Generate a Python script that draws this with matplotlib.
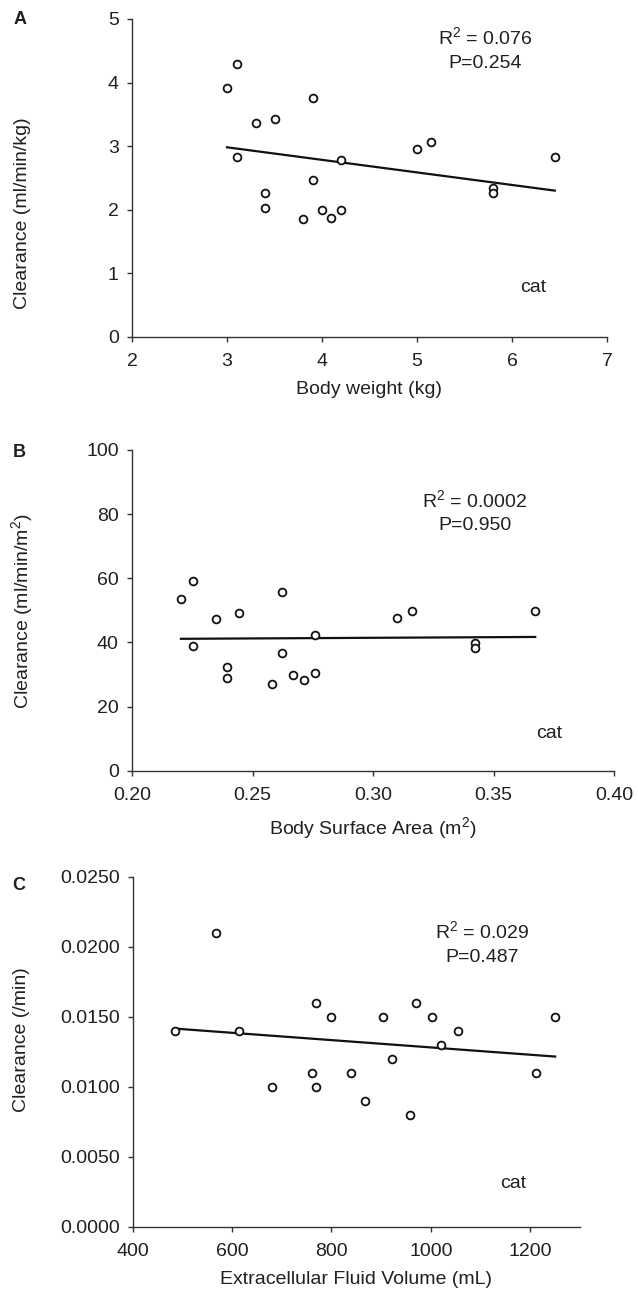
import numpy as np
import matplotlib
matplotlib.use("Agg")
import matplotlib.pyplot as plt
from matplotlib.ticker import FormatStrFormatter

plt.rcParams['font.family'] = ['Liberation Sans', 'DejaVu Sans']
plt.rcParams['mathtext.fontset'] = 'custom'
plt.rcParams['mathtext.rm'] = 'Liberation Sans'
plt.rcParams['mathtext.it'] = 'Liberation Sans'
plt.rcParams['mathtext.default'] = 'regular'

# ---------------- data ----------------
# Panel A: body weight (kg) vs clearance (ml/min/kg)
bw_kg = [3.0, 3.1, 3.1, 3.3, 3.4, 3.4, 3.5, 3.8, 3.9, 3.9, 4.0, 4.1, 4.2, 4.2,
         5.0, 5.15, 5.8, 5.8, 6.45]
cl_per_kg = [3.92, 4.29, 2.83, 3.37, 2.27, 2.03, 3.43, 1.85, 3.76, 2.47, 1.99,
             1.87, 1.99, 2.78, 2.96, 3.06, 2.35, 2.26, 2.83]

# Panel B: body surface area (m2) vs clearance (ml/min/m2)
bsa_m2 = [0.2203, 0.2252, 0.2252, 0.2349, 0.2395, 0.2395, 0.2442, 0.2580, 0.2624,
          0.2624, 0.2669, 0.2713, 0.2760, 0.2760, 0.3099, 0.3161, 0.3423, 0.3423,
          0.3673]
cl_per_m2 = [53.4, 59.1, 38.9, 47.3, 32.3, 29.0, 49.2, 27.1, 55.8, 36.8, 29.8,
             28.4, 30.5, 42.4, 47.7, 49.9, 39.7, 38.3, 49.7]

# Panel C: extracellular fluid volume (mL) vs clearance (/min)
ecfv_ml = [485, 568, 614, 680, 760, 768, 768, 798, 839, 867, 903, 921, 958, 970,
           1002, 1020, 1054, 1211, 1250]
cl_per_min = [0.0140, 0.0210, 0.0140, 0.0100, 0.0110, 0.0160, 0.0100, 0.0150,
              0.0110, 0.0090, 0.0150, 0.0120, 0.0080, 0.0160, 0.0150, 0.0130,
              0.0140, 0.0110, 0.0150]

panel_letters = ["A", "B", "C"]
x_labels = ["Body weight (kg)", "Body Surface Area (m$^{2}$)",
            "Extracellular Fluid Volume (mL)"]
y_labels = ["Clearance (ml/min/kg)", "Clearance (ml/min/m$^{2}$)",
            "Clearance (/min)"]
stats_r2 = ["R$^{2}$ = 0.076", "R$^{2}$ = 0.0002", "R$^{2}$ = 0.029"]
stats_p = ["P=0.254", "P=0.950", "P=0.487"]
species = "cat"

x_ticks = [[2, 3, 4, 5, 6, 7], [0.20, 0.25, 0.30, 0.35, 0.40],
           [400, 600, 800, 1000, 1200]]
x_lims = [(2, 7), (0.20, 0.40), (400, 1300)]
y_ticks = [[0, 1, 2, 3, 4, 5], [0, 20, 40, 60, 80, 100],
           [0.0, 0.005, 0.010, 0.015, 0.020, 0.025]]
y_lims = [(0, 5), (0, 100), (0, 0.025)]
x_fmt = ["%d", "%.2f", "%d"]
y_fmt = ["%d", "%d", "%.4f"]

# ---------------- layout (pixels) ----------------
W, H = 638, 1300
fig = plt.figure(figsize=(W / 100, H / 100), dpi=100)

def fx(px):
    return px / W

def fy(py):
    return 1 - py / H

# left, right, top, bottom in pixels
boxes = [(132, 607, 19, 337), (132, 614, 450, 770.7), (132.7, 580, 876.7, 1226.7)]
letter_pos = [(20, 20), (19, 452), (19, 886)]
ylabel_pos = [(23, 213), (22, 611), (22, 1040)]
r2_pos = [(485, 37), (475, 500), (482, 931)]
p_pos = [(485, 64), (475, 526), (482, 957)]
cat_pos = [(533, 287), (549, 733), (513, 1183)]

txt = '#231f20'
fs = 14

datasets = [(bw_kg, cl_per_kg), (bsa_m2, cl_per_m2), (ecfv_ml, cl_per_min)]

for i, (xs, ys) in enumerate(datasets):
    l, r, t, b = boxes[i]
    ax = fig.add_axes([fx(l), fy(b), fx(r) - fx(l), (b - t) / H])
    xs = np.asarray(xs, float)
    ys = np.asarray(ys, float)
    ax.plot(xs, ys, linestyle='none', marker='o', markersize=5.6,
            markerfacecolor='white', markeredgecolor='#111111',
            markeredgewidth=1.3, zorder=3)
    slope, icpt = np.polyfit(xs, ys, 1)
    xl = np.array([xs.min(), xs.max()])
    ax.plot(xl, slope * xl + icpt, color='#111111', linewidth=1.6, zorder=2)

    ax.set_xlim(*x_lims[i])
    ax.set_ylim(*y_lims[i])
    ax.set_xticks(x_ticks[i])
    ax.set_yticks(y_ticks[i])
    ax.xaxis.set_major_formatter(FormatStrFormatter(x_fmt[i]))
    ax.yaxis.set_major_formatter(FormatStrFormatter(y_fmt[i]))
    for s in ['top', 'right']:
        ax.spines[s].set_visible(False)
    for s in ['left', 'bottom']:
        ax.spines[s].set_color('#333333')
        ax.spines[s].set_linewidth(1.0)
    ax.tick_params(axis='both', direction='out', length=3.5, width=1.0,
                   color='#333333', labelsize=fs, labelcolor=txt)
    ax.tick_params(axis='x', pad=8)
    ax.tick_params(axis='y', pad=6)
    ax.set_xlabel(x_labels[i], fontsize=fs, color=txt, labelpad=8)

    fig.text(fx(ylabel_pos[i][0]), fy(ylabel_pos[i][1]), y_labels[i],
             rotation=90, ha='center', va='center', fontsize=fs, color=txt)
    fig.text(fx(letter_pos[i][0]), fy(letter_pos[i][1]), panel_letters[i],
             ha='center', va='center', fontsize=13, fontweight='bold', color=txt)
    fig.text(fx(r2_pos[i][0]), fy(r2_pos[i][1]), stats_r2[i],
             ha='center', va='center', fontsize=fs, color=txt)
    fig.text(fx(p_pos[i][0]), fy(p_pos[i][1]), stats_p[i],
             ha='center', va='center', fontsize=fs, color=txt)
    fig.text(fx(cat_pos[i][0]), fy(cat_pos[i][1]), species,
             ha='center', va='center', fontsize=fs, color=txt)

fig.savefig("out.png", dpi=100, facecolor='white')
